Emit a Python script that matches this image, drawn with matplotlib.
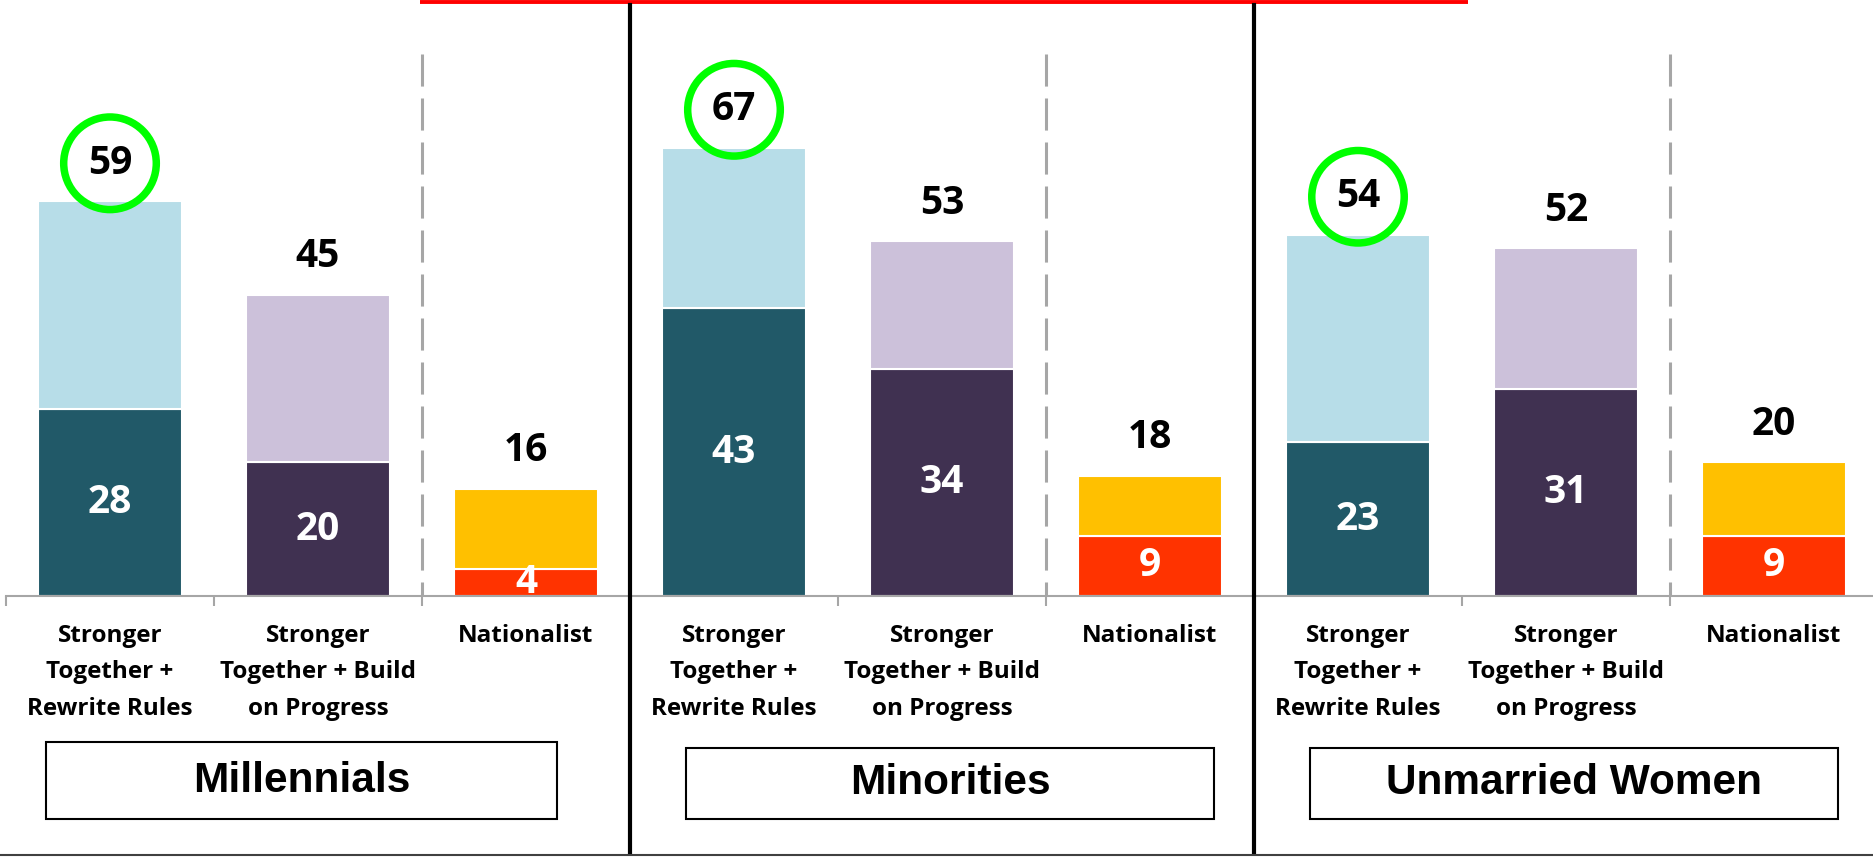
import matplotlib
matplotlib.use('Agg')
import matplotlib.pyplot as plt
from matplotlib.patches import Rectangle
from matplotlib.lines import Line2D
from matplotlib.transforms import blended_transform_factory
import numpy as np

groups = ['Millennials', 'Minorities', 'Unmarried Women']
categories = ['Stronger\nTogether +\nRewrite Rules',
              'Stronger\nTogether + Build\non Progress',
              'Nationalist']
totals = [59, 45, 16, 67, 53, 18, 54, 52, 20]
inner = [28, 20, 4, 43, 34, 9, 23, 31, 9]
circled = [0, 3, 6]

dark_cols = ['#215968', '#403151', '#FF3300']
light_cols = ['#B7DDE8', '#CCC1DA', '#FFC000']

# group label boxes (x in category units, y in pixels from top)
box_left = [-0.31, 2.77, 5.77]
box_right = [2.15, 5.31, 8.31]
box_top = [742, 748, 748]
box_bottom = 819

W, H = 1874, 858
fig = plt.figure(figsize=(W / 100, H / 100), dpi=100)
ax = fig.add_axes([6 / W, 1 - 596 / H, 9 * 208 / W, 596 / H])

x = np.arange(len(totals))
top = np.array(totals) - np.array(inner)
dark = [dark_cols[i % 3] for i in x]
light = [light_cols[i % 3] for i in x]

ax.bar(x, inner, width=0.69, color=dark, edgecolor='white', linewidth=1.5, zorder=2)
ax.bar(x, top, bottom=inner, width=0.69, color=light, edgecolor='white', linewidth=1.5, zorder=2)
ax.set_xlim(-0.5, 8.5)
ax.set_ylim(0, 596 / 6.69)

num_font = dict(family='Open Sans', weight='bold', fontsize=28)

for i in x:
    # inner value
    ax.text(i, inner[i] / 2, str(inner[i]), ha='center', va='center', color='white', zorder=3, **num_font)
    # total value on top
    bbox = None
    if i in circled:
        bbox = dict(boxstyle='circle,pad=0.62', fc='none', ec='#00FF00', lw=5.4)
    ax.annotate(str(totals[i]), xy=(i, totals[i]), xytext=(0, 38), textcoords='offset pixels',
                ha='center', va='center', color='black', bbox=bbox, zorder=4, **num_font)

# axes styling
for s in ['top', 'left', 'right']:
    ax.spines[s].set_visible(False)
ax.spines['bottom'].set_color('#A6A6A6')
ax.spines['bottom'].set_linewidth(1.5)
ax.set_yticks([])
ax.set_xticks(x)
ax.set_xticklabels(categories * 3, fontfamily='Open Sans', fontweight='bold', fontsize=17.5, linespacing=1.7)
ax.set_xticks(np.arange(-0.5, 9, 1), minor=True)
ax.tick_params(axis='x', which='major', length=0, pad=20)
ax.tick_params(axis='x', which='minor', length=7, width=1.5, color='#A6A6A6', direction='out')

bx = blended_transform_factory(ax.transData, ax.transAxes)
bf = blended_transform_factory(ax.transData, fig.transFigure)

# gray dashed separators
for g in range(3):
    sx = 3 * g + 1.5
    ax.plot([sx, sx], [1 - 54 / 596, 0], transform=bx, color='#A6A6A6', lw=2.2,
            linestyle=(0, (10.5, 3.9)), clip_on=False, zorder=1)

# black group separators
for sx in [2.5, 5.5]:
    ax.plot([sx, sx], [1 - 5 / 596, -(853 - 596) / 596], transform=bx, color='black', lw=3,
            clip_on=False, zorder=5)

# red line at top
ax.plot([1.49, 6.53], [1 - 2 / 596, 1 - 2 / 596], transform=bx, color='red', lw=2.8,
        clip_on=False, solid_capstyle='butt')

# bottom border
fig.add_artist(Line2D([0, 1], [0.003, 0.003], transform=fig.transFigure, color='#404040', lw=1.5))

# group boxes
for g, name in enumerate(groups):
    y0 = 1 - box_bottom / H
    hgt = (box_bottom - box_top[g]) / H
    ax.add_patch(Rectangle((box_left[g], y0), box_right[g] - box_left[g], hgt, transform=bf,
                           fill=False, ec='black', lw=1.5, clip_on=False))
    ax.text((box_left[g] + box_right[g]) / 2, y0 + hgt / 2, name, transform=bf, ha='center', va='center',
            fontfamily='Liberation Sans', fontweight='bold', fontsize=30.5)

fig.savefig('out.png', dpi=100)
